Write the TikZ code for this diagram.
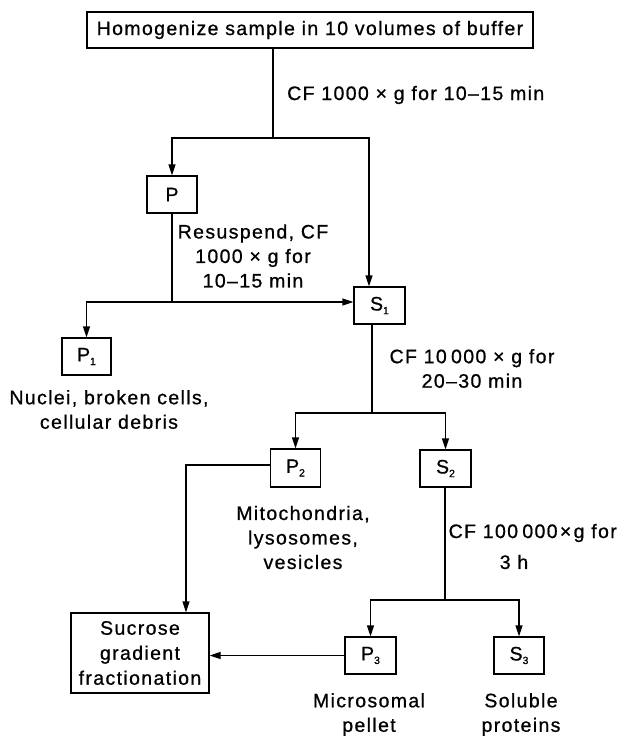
\documentclass[tikz,border=0pt]{standalone}
\usepackage{fontspec}
\setmainfont{Liberation Sans}[LetterSpace=7,FakeBold=0.8]
\usetikzlibrary{arrows.meta}
\newcommand\sbx[1]{\raisebox{-0.35ex}{\fontsize{10.5}{10.5}\selectfont #1}}
\begin{document}
\begin{tikzpicture}[x=1pt,y=-1pt,
  box/.style={draw,line width=1.3pt,inner sep=0pt,minimum height=37pt,minimum width=51pt,
    font=\fontsize{19.5}{24}\selectfont},
  lbl/.style={inner sep=0pt,align=center,font=\fontsize{19.5}{24.5}\selectfont},
  conn/.style={line width=1.3pt},
  arr/.style={conn,-{Triangle[length=11pt,width=7pt]}}]
\useasboundingbox (0,0) rectangle (619,738);
% boxes
\node[box,minimum width=446pt,minimum height=36pt] (top) at (310,30) {Homogenize sample in 10 volumes of buffer};
\node[box,minimum width=50pt] (P) at (172,194.5) {P};
\node[box] (S1) at (379.5,305.5) {S\sbx{1}};
\node[box,minimum width=49pt] (P1) at (86.5,356.5) {P\sbx{1}};
\node[box,minimum width=50pt,minimum height=38pt] (P2) at (295.5,468) {P\sbx{2}};
\node[box] (S2) at (445.5,468.5) {S\sbx{2}};
\node[box,minimum width=138pt,minimum height=80pt,align=center,font=\fontsize{19.5}{25}\selectfont] (suc) at (140,653) {Sucrose\\gradient\\fractionation};
\node[box] (P3) at (370.5,655.5) {P\sbx{3}};
\node[box,minimum width=50pt] (S3) at (519,655.5) {S\sbx{3}};
% labels
\node[lbl,anchor=west] (l1) at (287,95) {CF 1000 × g for 10–15 min};
\node[lbl] (l2) at (253,256) {Resuspend, CF\\1000 × g for\\10–15 min};
\node[lbl] (l3) at (472,368.5) {CF 10\hspace{0.22em}000 × g for\\20–30 min};
\node[lbl] (l4) at (109,409.5) {Nuclei, broken cells,\\cellular debris};
\node[lbl] (l5) at (303,537.5) {Mitochondria,\\lysosomes,\\vesicles};
\node[lbl,anchor=east] (l6) at (617,533) {CF 100\hspace{0.22em}000\hspace{0.12em}×\hspace{0.12em}g for};
\node[lbl] (l7) at (514,562) {3 h};
\node[lbl] (l8) at (369,714.5) {Microsomal\\pellet};
\node[lbl] (l9) at (521,714.5) {Soluble\\proteins};
% junctions
\coordinate (j1) at (273,138);
\coordinate (s1in) at (369,138);
\coordinate (j2) at (172,302);
\coordinate (j3) at (372,413);
\coordinate (sucin) at (186,465);
\coordinate (j4) at (445,600);
% connectors
\draw[conn] (top.south -| j1) -- (j1);
\draw[arr] (j1) -| (P.north);
\draw[arr] (j1) -- (s1in) -- (s1in |- S1.north);
\draw[conn] (P.south) -- (j2);
\draw[arr] (j2) -- (S1.west |- j2);
\draw[arr] (j2) -| (P1.north);
\draw[conn] (S1.south -| j3) -- (j3);
\draw[arr] (j3) -| (P2.north);
\draw[arr] (j3) -| (S2.north);
\draw[arr] (P2.west |- sucin) -- (sucin) -- (sucin |- suc.north);
\draw[conn] (S2.south -| j4) -- (j4);
\draw[arr] (j4) -| (P3.north);
\draw[arr] (j4) -| (S3.north);
\draw[arr] (P3.west) -- (suc.east |- P3.west);
\end{tikzpicture}
\end{document}
